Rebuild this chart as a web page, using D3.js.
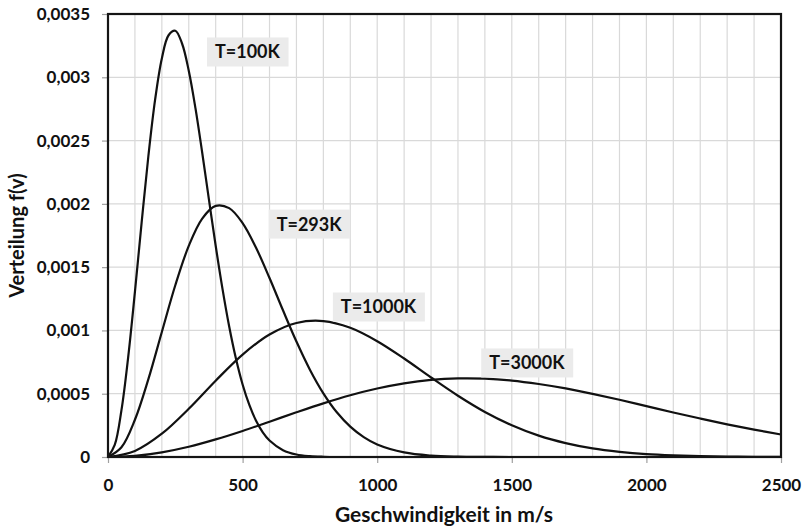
<!DOCTYPE html>
<html>
<head>
<meta charset="utf-8">
<script src="https://cdn.jsdelivr.net/npm/d3@7"></script>
<style>
  body { margin: 0; background: #fff; }
  svg text { font-family: Lato, "Open Sans", sans-serif; font-weight: 700; fill: #111; }
</style>
</head>
<body>
<svg id="chart" width="804" height="529"></svg>
<script>
// Maxwell speed distribution of N2 at four temperatures, f(v) in s/m
const speeds100 = [0, 25, 50, 75, 100, 125, 150, 175, 200, 225, 250, 275, 300, 325, 350, 375, 400, 425, 450, 475, 500, 525, 550, 575, 600, 650, 700, 750, 800, 850, 900, 1000, 1500, 2000, 2500];
const dist100 = [0, 0.000095, 0.000370, 0.000790, 0.001305, 0.001854, 0.002378, 0.002823, 0.003149, 0.003332, 0.003368, 0.003267, 0.003052, 0.002754, 0.002404, 0.002033, 0.001669, 0.001332, 0.001033, 0.000780, 0.000573, 0.000411, 0.000286, 0.000195, 0.000130, 0.000054, 0.000020, 0.000007, 0.000002, 0, 0, 0, 0, 0, 0];

const speeds293 = [0, 50, 100, 150, 200, 250, 300, 350, 400, 450, 500, 550, 600, 650, 700, 750, 800, 850, 900, 950, 1000, 1100, 1200, 1300, 1400, 1500, 2000, 2500];
const dist293 = [0, 0.000077, 0.000294, 0.000615, 0.000988, 0.001357, 0.001668, 0.001884, 0.001984, 0.001966, 0.001848, 0.001653, 0.001414, 0.001159, 0.000912, 0.000690, 0.000503, 0.000353, 0.000240, 0.000157, 0.000099, 0.000036, 0.000011, 0.000003, 0.000001, 0, 0, 0];

const speeds = [0, 100, 200, 300, 400, 500, 600, 700, 800, 900, 1000, 1100, 1200, 1300, 1400, 1500, 1600, 1700, 1800, 1900, 2000, 2100, 2200, 2300, 2400, 2500];
const dist1000 = [0, 0.000048, 0.000184, 0.000381, 0.000603, 0.000809, 0.000968, 0.001059, 0.001074, 0.001021, 0.000915, 0.000778, 0.000628, 0.000484, 0.000356, 0.000251, 0.000169, 0.000110, 0.000068, 0.000041, 0.000023, 0.000013, 0.000007, 0.000004, 0.000002, 0.000001];
const dist3000 = [0, 0.000009, 0.000037, 0.000081, 0.000139, 0.000206, 0.000279, 0.000353, 0.000424, 0.000488, 0.000541, 0.000582, 0.000609, 0.000621, 0.000619, 0.000604, 0.000577, 0.000542, 0.000499, 0.000452, 0.000402, 0.000352, 0.000304, 0.000258, 0.000216, 0.000178];

const seriesNames = ["T=100K", "T=293K", "T=1000K", "T=3000K"];
// where each temperature tag sits, in data units (speed, f)
const tagSpeed = [518, 747, 1005, 1556];
const tagValue = [0.0032, 0.00184, 0.001185, 0.000743];

const xTicks = [0, 500, 1000, 1500, 2000, 2500];
const xTickLabels = ["0", "500", "1000", "1500", "2000", "2500"];
const yTicks = [0, 0.0005, 0.001, 0.0015, 0.002, 0.0025, 0.003, 0.0035];
const yTickLabels = ["0", "0,0005", "0,001", "0,0015", "0,002", "0,0025", "0,003", "0,0035"];

const xTitle = "Geschwindigkeit in m/s";
const yTitle = "Verteilung f(v)";

const svg = d3.select("#chart");
const plotLeft = 108, plotRight = 781, plotTop = 14, plotBottom = 457;

const x = d3.scaleLinear().domain([0, 2500]).range([plotLeft, plotRight]);
const y = d3.scaleLinear().domain([0, 0.0035]).range([plotBottom, plotTop]);

// grid: minor verticals every 100 m/s, horizontals at the y ticks
const grid = svg.append("g").attr("stroke", "#d9d9d9").attr("stroke-width", 1.2);
grid.selectAll("line.v").data(d3.range(100, 2500, 100)).join("line")
  .attr("class", "v")
  .attr("x1", d => x(d)).attr("x2", d => x(d))
  .attr("y1", plotTop).attr("y2", plotBottom);
grid.selectAll("line.h").data(yTicks.slice(1, -1)).join("line")
  .attr("class", "h")
  .attr("x1", plotLeft).attr("x2", plotRight)
  .attr("y1", d => y(d)).attr("y2", d => y(d));

// axes
const xAxis = svg.append("g")
  .attr("transform", `translate(0,${plotBottom})`)
  .call(d3.axisBottom(x).tickValues(xTicks).tickFormat((d, i) => xTickLabels[i]).tickSize(6).tickPadding(16));
const yAxis = svg.append("g")
  .attr("transform", `translate(${plotLeft},0)`)
  .call(d3.axisLeft(y).tickValues(yTicks).tickFormat((d, i) => yTickLabels[i]).tickSize(6).tickPadding(12));
[xAxis, yAxis].forEach(a => {
  a.select(".domain").remove();
  a.selectAll(".tick line").attr("stroke", "#a0a0a0").attr("stroke-width", 1.2);
  a.selectAll(".tick text").attr("font-size", 17).attr("fill", "#111")
    .attr("font-family", "Lato, 'Open Sans', sans-serif").attr("font-weight", 700);
});

// curves
const line = d3.line().curve(d3.curveCatmullRom.alpha(0.5)).x(d => x(d[0])).y(d => y(d[1]));
const curves = [
  d3.zip(speeds100, dist100),
  d3.zip(speeds293, dist293),
  d3.zip(speeds, dist1000),
  d3.zip(speeds, dist3000)
];
svg.append("g").selectAll("path").data(curves).join("path")
  .attr("d", line)
  .attr("fill", "none")
  .attr("stroke", "#111")
  .attr("stroke-width", 2.2)
  .attr("stroke-linejoin", "round");

// plot frame
svg.append("rect")
  .attr("x", plotLeft).attr("y", plotTop)
  .attr("width", plotRight - plotLeft).attr("height", plotBottom - plotTop)
  .attr("fill", "none").attr("stroke", "#151515").attr("stroke-width", 2.2);

// temperature tags
const tags = svg.append("g").selectAll("g").data(seriesNames).join("g")
  .attr("transform", (d, i) => `translate(${x(tagSpeed[i])},${y(tagValue[i])})`);
tags.append("text")
  .attr("text-anchor", "middle").attr("dy", "0.36em")
  .attr("font-size", 18)
  .text(d => d);
tags.each(function () {
  const g = d3.select(this);
  const b = g.select("text").node().getBBox();
  g.insert("rect", "text")
    .attr("x", b.x - 8).attr("y", -14.5)
    .attr("width", b.width + 16).attr("height", 29)
    .attr("fill", "#ebebeb");
});

// axis titles
svg.append("text")
  .attr("x", 444).attr("y", 522)
  .attr("text-anchor", "middle").attr("font-size", 21)
  .text(xTitle);
svg.append("text")
  .attr("transform", `translate(24,${(plotTop + plotBottom) / 2}) rotate(-90)`)
  .attr("text-anchor", "middle").attr("font-size", 20)
  .text(yTitle);
</script>
</body>
</html>
